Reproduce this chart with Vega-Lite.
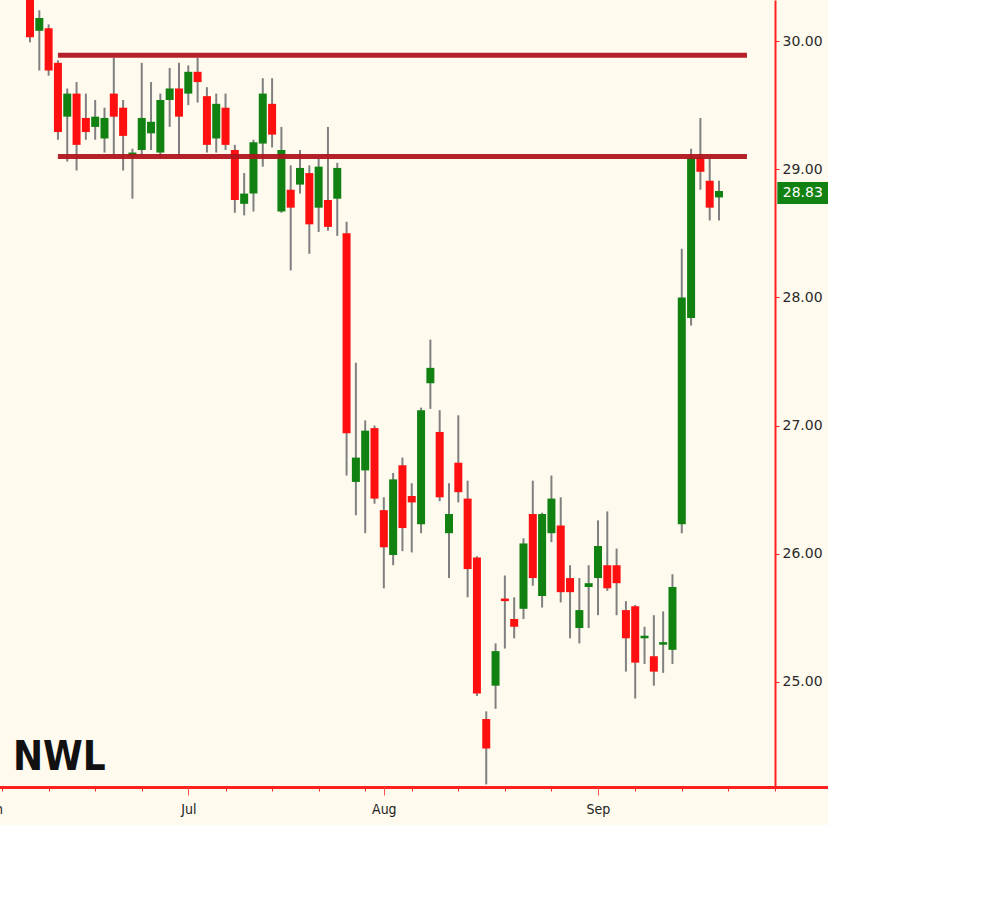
{
  "$schema": "https://vega.github.io/schema/vega-lite/v6.json",
  "width": 775,
  "height": 787,
  "autosize": "none",
  "padding": {"left": 0, "top": 0, "right": 53, "bottom": 38},
  "background": "#fefaee",
  "title": {"text": "NWL", "orient": "bottom", "anchor": "start", "frame": "group", "offset": -78, "dx": 13, "font": "DejaVu Sans Condensed, DejaVu Sans, sans-serif", "fontWeight": "bold", "fontSize": 40, "color": "#111111"},
  "config": {"view": {"stroke": null}, "axis": {"grid": false, "title": null}},
  "datasets": {
    "prices": [
      {"date": "2007-06-07", "open": 30.45, "high": 30.55, "low": 29.99, "close": 30.03},
      {"date": "2007-06-08", "open": 30.08, "high": 30.24, "low": 29.77, "close": 30.18},
      {"date": "2007-06-11", "open": 30.10, "high": 30.13, "low": 29.73, "close": 29.77},
      {"date": "2007-06-12", "open": 29.83, "high": 29.85, "low": 29.23, "close": 29.29},
      {"date": "2007-06-13", "open": 29.41, "high": 29.63, "low": 29.06, "close": 29.59},
      {"date": "2007-06-14", "open": 29.59, "high": 29.68, "low": 28.99, "close": 29.19},
      {"date": "2007-06-15", "open": 29.40, "high": 29.59, "low": 29.23, "close": 29.29},
      {"date": "2007-06-18", "open": 29.33, "high": 29.54, "low": 29.23, "close": 29.41},
      {"date": "2007-06-19", "open": 29.24, "high": 29.48, "low": 29.13, "close": 29.40},
      {"date": "2007-06-20", "open": 29.59, "high": 29.87, "low": 29.11, "close": 29.41},
      {"date": "2007-06-21", "open": 29.48, "high": 29.54, "low": 28.99, "close": 29.26},
      {"date": "2007-06-22", "open": 29.10, "high": 29.16, "low": 28.77, "close": 29.13},
      {"date": "2007-06-25", "open": 29.15, "high": 29.83, "low": 29.11, "close": 29.40},
      {"date": "2007-06-26", "open": 29.28, "high": 29.68, "low": 29.15, "close": 29.37},
      {"date": "2007-06-27", "open": 29.13, "high": 29.59, "low": 29.09, "close": 29.54},
      {"date": "2007-06-28", "open": 29.54, "high": 29.79, "low": 29.33, "close": 29.63},
      {"date": "2007-06-29", "open": 29.63, "high": 29.83, "low": 29.11, "close": 29.41},
      {"date": "2007-07-02", "open": 29.59, "high": 29.81, "low": 29.50, "close": 29.76},
      {"date": "2007-07-03", "open": 29.76, "high": 29.87, "low": 29.52, "close": 29.68},
      {"date": "2007-07-05", "open": 29.57, "high": 29.64, "low": 29.13, "close": 29.19},
      {"date": "2007-07-06", "open": 29.24, "high": 29.59, "low": 29.13, "close": 29.51},
      {"date": "2007-07-09", "open": 29.48, "high": 29.59, "low": 29.15, "close": 29.19},
      {"date": "2007-07-10", "open": 29.15, "high": 29.19, "low": 28.66, "close": 28.76},
      {"date": "2007-07-11", "open": 28.73, "high": 28.97, "low": 28.64, "close": 28.81},
      {"date": "2007-07-12", "open": 28.81, "high": 29.23, "low": 28.67, "close": 29.21},
      {"date": "2007-07-13", "open": 29.20, "high": 29.71, "low": 29.02, "close": 29.59},
      {"date": "2007-07-16", "open": 29.51, "high": 29.71, "low": 29.17, "close": 29.27},
      {"date": "2007-07-17", "open": 28.67, "high": 29.33, "low": 28.66, "close": 29.15},
      {"date": "2007-07-18", "open": 28.84, "high": 29.03, "low": 28.21, "close": 28.70},
      {"date": "2007-07-19", "open": 28.88, "high": 29.15, "low": 28.81, "close": 29.01},
      {"date": "2007-07-20", "open": 28.97, "high": 29.03, "low": 28.34, "close": 28.57},
      {"date": "2007-07-23", "open": 28.70, "high": 29.09, "low": 28.51, "close": 29.02},
      {"date": "2007-07-24", "open": 28.76, "high": 29.33, "low": 28.52, "close": 28.55},
      {"date": "2007-07-25", "open": 28.77, "high": 29.05, "low": 28.48, "close": 29.01},
      {"date": "2007-07-26", "open": 28.50, "high": 28.59, "low": 26.61, "close": 26.94},
      {"date": "2007-07-27", "open": 26.56, "high": 27.49, "low": 26.30, "close": 26.75},
      {"date": "2007-07-30", "open": 26.65, "high": 27.04, "low": 26.16, "close": 26.96},
      {"date": "2007-07-31", "open": 26.98, "high": 27.00, "low": 26.39, "close": 26.43},
      {"date": "2007-08-01", "open": 26.34, "high": 26.44, "low": 25.73, "close": 26.05},
      {"date": "2007-08-02", "open": 25.99, "high": 26.63, "low": 25.91, "close": 26.58},
      {"date": "2007-08-03", "open": 26.69, "high": 26.75, "low": 26.02, "close": 26.20},
      {"date": "2007-08-06", "open": 26.45, "high": 26.55, "low": 26.01, "close": 26.40},
      {"date": "2007-08-07", "open": 26.23, "high": 27.14, "low": 26.16, "close": 27.12},
      {"date": "2007-08-08", "open": 27.33, "high": 27.67, "low": 27.13, "close": 27.45},
      {"date": "2007-08-09", "open": 26.95, "high": 27.12, "low": 26.41, "close": 26.44},
      {"date": "2007-08-10", "open": 26.16, "high": 26.55, "low": 25.81, "close": 26.31},
      {"date": "2007-08-13", "open": 26.71, "high": 27.08, "low": 26.40, "close": 26.48},
      {"date": "2007-08-14", "open": 26.43, "high": 26.57, "low": 25.66, "close": 25.88},
      {"date": "2007-08-15", "open": 25.97, "high": 25.98, "low": 24.89, "close": 24.91},
      {"date": "2007-08-16", "open": 24.71, "high": 24.77, "low": 24.20, "close": 24.48},
      {"date": "2007-08-17", "open": 24.97, "high": 25.30, "low": 24.79, "close": 25.24},
      {"date": "2007-08-20", "open": 25.65, "high": 25.83, "low": 25.26, "close": 25.63},
      {"date": "2007-08-21", "open": 25.49, "high": 25.66, "low": 25.34, "close": 25.43},
      {"date": "2007-08-22", "open": 25.57, "high": 26.12, "low": 25.49, "close": 26.08},
      {"date": "2007-08-23", "open": 26.31, "high": 26.57, "low": 25.75, "close": 25.81},
      {"date": "2007-08-24", "open": 25.67, "high": 26.32, "low": 25.58, "close": 26.31},
      {"date": "2007-08-27", "open": 26.16, "high": 26.61, "low": 26.09, "close": 26.43},
      {"date": "2007-08-28", "open": 26.22, "high": 26.44, "low": 25.62, "close": 25.70},
      {"date": "2007-08-29", "open": 25.81, "high": 25.91, "low": 25.34, "close": 25.70},
      {"date": "2007-08-30", "open": 25.42, "high": 25.81, "low": 25.30, "close": 25.56},
      {"date": "2007-08-31", "open": 25.74, "high": 25.91, "low": 25.42, "close": 25.77},
      {"date": "2007-09-04", "open": 25.81, "high": 26.26, "low": 25.52, "close": 26.06},
      {"date": "2007-09-05", "open": 25.91, "high": 26.33, "low": 25.71, "close": 25.73},
      {"date": "2007-09-06", "open": 25.91, "high": 26.04, "low": 25.52, "close": 25.77},
      {"date": "2007-09-07", "open": 25.56, "high": 25.63, "low": 25.08, "close": 25.34},
      {"date": "2007-09-10", "open": 25.59, "high": 25.60, "low": 24.87, "close": 25.15},
      {"date": "2007-09-11", "open": 25.34, "high": 25.43, "low": 25.14, "close": 25.36},
      {"date": "2007-09-12", "open": 25.20, "high": 25.52, "low": 24.97, "close": 25.08},
      {"date": "2007-09-13", "open": 25.29, "high": 25.55, "low": 25.07, "close": 25.31},
      {"date": "2007-09-14", "open": 25.25, "high": 25.84, "low": 25.14, "close": 25.74},
      {"date": "2007-09-17", "open": 26.23, "high": 28.38, "low": 26.16, "close": 28.00},
      {"date": "2007-09-18", "open": 27.84, "high": 29.16, "low": 27.78, "close": 29.09},
      {"date": "2007-09-19", "open": 29.09, "high": 29.40, "low": 28.84, "close": 28.98},
      {"date": "2007-09-20", "open": 28.91, "high": 29.09, "low": 28.60, "close": 28.70},
      {"date": "2007-09-21", "open": 28.78, "high": 28.91, "low": 28.60, "close": 28.83}
    ],
    "levels": [
      {"name": "resistance", "price": 29.89, "from": "2007-06-12", "to": "2007-09-26"},
      {"name": "support", "price": 29.10, "from": "2007-06-12", "to": "2007-09-26"}
    ],
    "last": [
      {"date": "2007-10-04", "price": 28.83, "label": "28.83"}
    ]
  },
  "resolve": {"axis": {"x": "independent"}},
  "layer": [
    {
      "data": {"name": "prices"},
      "mark": {"type": "rule", "color": "#808080", "strokeWidth": 2, "clip": true},
      "encoding": {
        "x": {
          "field": "date", "type": "ordinal",
          "scale": {
            "type": "point", "padding": 0, "range": [-7.24, 830.75],
            "domain": ["2007-06-01","2007-06-04","2007-06-05","2007-06-06","2007-06-07","2007-06-08","2007-06-11","2007-06-12","2007-06-13","2007-06-14","2007-06-15","2007-06-18","2007-06-19","2007-06-20","2007-06-21","2007-06-22","2007-06-25","2007-06-26","2007-06-27","2007-06-28","2007-06-29","2007-07-02","2007-07-03","2007-07-05","2007-07-06","2007-07-09","2007-07-10","2007-07-11","2007-07-12","2007-07-13","2007-07-16","2007-07-17","2007-07-18","2007-07-19","2007-07-20","2007-07-23","2007-07-24","2007-07-25","2007-07-26","2007-07-27","2007-07-30","2007-07-31","2007-08-01","2007-08-02","2007-08-03","2007-08-06","2007-08-07","2007-08-08","2007-08-09","2007-08-10","2007-08-13","2007-08-14","2007-08-15","2007-08-16","2007-08-17","2007-08-20","2007-08-21","2007-08-22","2007-08-23","2007-08-24","2007-08-27","2007-08-28","2007-08-29","2007-08-30","2007-08-31","2007-09-04","2007-09-05","2007-09-06","2007-09-07","2007-09-10","2007-09-11","2007-09-12","2007-09-13","2007-09-14","2007-09-17","2007-09-18","2007-09-19","2007-09-20","2007-09-21","2007-09-24","2007-09-25","2007-09-26","2007-09-27","2007-09-28","2007-10-01","2007-10-02","2007-10-03","2007-10-04","2007-10-05","2007-10-08","2007-10-09"]
          },
          "axis": {
            "orient": "bottom",
            "values": ["2007-06-04","2007-06-11","2007-06-18","2007-06-25","2007-07-02","2007-07-09","2007-07-16","2007-07-23","2007-07-30","2007-08-06","2007-08-13","2007-08-20","2007-08-27","2007-09-04","2007-09-10","2007-09-17","2007-09-24","2007-10-01"],
            "labels": false, "ticks": true, "tickSize": 4, "tickColor": "#ff3030", "tickWidth": 1,
            "domain": true, "domainColor": "#ff2020", "domainWidth": 3
          }
        },
        "y": {
          "field": "low", "type": "quantitative",
          "scale": {"domain": [24.1797, 30.3203], "nice": false, "zero": false},
          "axis": {
            "orient": "right", "values": [25, 26, 27, 28, 29, 30], "format": ".2f",
            "tickSize": 4, "tickColor": "#ff2020", "tickWidth": 1,
            "domainColor": "#ff2020", "domainWidth": 2,
            "labelFont": "DejaVu Sans", "labelFontSize": 14, "labelColor": "#2a2a2a", "labelPadding": 3
          }
        },
        "y2": {"field": "high"}
      }
    },
    {
      "data": {"name": "prices"},
      "mark": {"type": "bar", "size": 8, "clip": true},
      "encoding": {
        "x": {
          "field": "date", "type": "ordinal",
          "axis": {
            "orient": "bottom",
            "values": ["2007-06-01", "2007-07-02", "2007-08-01", "2007-09-04"],
            "labelExpr": "utcFormat(toDate(datum.value), '%b')",
            "labelAngle": 0, "labelAlign": "center", "labelBaseline": "top",
            "ticks": true, "tickSize": 8, "tickColor": "#ff5050", "tickWidth": 1,
            "domain": false,
            "labelFont": "DejaVu Sans Condensed, DejaVu Sans, sans-serif", "labelFontSize": 14, "labelColor": "#222222", "labelPadding": 7
          }
        },
        "y": {"field": "open", "type": "quantitative"},
        "y2": {"field": "close"},
        "color": {
          "condition": {"test": "datum.close >= datum.open", "value": "#118211"},
          "value": "#ff1010"
        }
      }
    },
    {
      "data": {"name": "levels"},
      "mark": {"type": "rule", "color": "#b0151e", "strokeWidth": 5, "opacity": 0.95},
      "encoding": {
        "x": {"field": "from", "type": "ordinal", "axis": null},
        "x2": {"field": "to"},
        "y": {"field": "price", "type": "quantitative"}
      }
    },
    {
      "data": {"name": "last"},
      "mark": {"type": "tick", "color": "#118211", "size": 51, "thickness": 22, "opacity": 1, "yOffset": 2},
      "encoding": {
        "x": {"field": "date", "type": "ordinal", "axis": null},
        "y": {"field": "price", "type": "quantitative"}
      }
    },
    {
      "data": {"name": "last"},
      "mark": {"type": "text", "color": "#ffffff", "font": "DejaVu Sans", "fontSize": 14, "align": "center", "baseline": "middle", "yOffset": 2},
      "encoding": {
        "x": {"field": "date", "type": "ordinal", "axis": null},
        "y": {"field": "price", "type": "quantitative"},
        "text": {"field": "label"}
      }
    }
  ]
}
